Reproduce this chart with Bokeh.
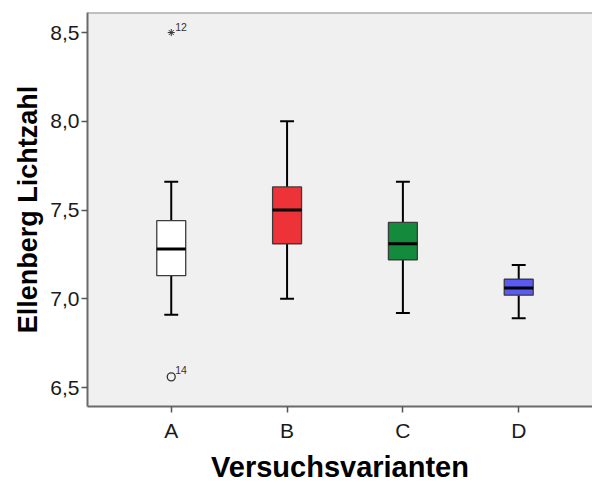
from bokeh.plotting import figure
from bokeh.models import ColumnDataSource, FixedTicker, Range1d, Span, Title
from bokeh.core.properties import value
from bokeh.embed import file_html
from bokeh.resources import INLINE

# ---- data ----
categories = ["A", "B", "C", "D"]
whisker_low = [6.91, 7.00, 6.92, 6.89]
q1 = [7.13, 7.31, 7.22, 7.02]
median = [7.28, 7.50, 7.31, 7.06]
q3 = [7.44, 7.63, 7.43, 7.11]
whisker_high = [7.66, 8.00, 7.66, 7.19]
box_colors = ["#ffffff", "#ee3338", "#138a3c", "#5a5af5"]

extreme_cat = ["A"]
extreme_val = [8.5]
extreme_label = ["12"]

outlier_cat = ["A"]
outlier_val = [6.56]
outlier_label = ["14"]

y_ticks = [6.5, 7.0, 7.5, 8.0, 8.5]
y_tick_labels = ["6,5", "7,0", "7,5", "8,0", "8,5"]

x_title = "Versuchsvarianten"
y_title = "Ellenberg Lichtzahl"

# ---- derived ----
BOX_W = 0.25
CAP_W = 0.12
pos = [i + 1 for i in range(len(categories))]
cat_pos = dict(zip(categories, pos))

src = ColumnDataSource(dict(
    pos=pos, lo=whisker_low, q1=q1, med=median, q3=q3, hi=whisker_high,
    color=box_colors,
    bx0=[p_ - BOX_W / 2 for p_ in pos], bx1=[p_ + BOX_W / 2 for p_ in pos],
    cx0=[p_ - CAP_W / 2 for p_ in pos], cx1=[p_ + CAP_W / 2 for p_ in pos],
))
ext_src = ColumnDataSource(dict(x=[cat_pos[c] for c in extreme_cat], y=extreme_val, t=extreme_label))
out_src = ColumnDataSource(dict(x=[cat_pos[c] for c in outlier_cat], y=outlier_val, t=outlier_label))

FONT = "Liberation Sans"

p = figure(width=592, height=484,
           x_range=Range1d(0.277, 4.637), y_range=Range1d(6.393, 8.613),
           output_backend="svg", toolbar_location=None,
           min_border_left=87, min_border_right=0, min_border_top=12, min_border_bottom=78)
p.background_fill_color = "#f0f0f0"
p.border_fill_color = "white"
p.outline_line_color = None
p.xgrid.visible = False
p.ygrid.visible = False

# top frame line
p.add_layout(Span(location=p.y_range.end, dimension="width", line_color="#8c8c8c", line_width=2))

for ax in (p.xaxis[0], p.yaxis[0]):
    ax.axis_line_color = "#6a6a6a"
    ax.axis_line_width = 2
    ax.major_tick_line_color = "#555555"
    ax.major_tick_line_width = 1.5
    ax.major_tick_out = 6
    ax.major_tick_in = 0
    ax.minor_tick_line_color = None
    ax.major_label_text_font = FONT
    ax.major_label_text_font_size = "21px"
    ax.major_label_text_color = "#1a1a1a"

p.xaxis.ticker = FixedTicker(ticks=pos)
p.xaxis.major_label_overrides = {p_: c for p_, c in zip(pos, categories)}
p.xaxis.major_label_standoff = 6

p.yaxis.ticker = FixedTicker(ticks=y_ticks)
p.yaxis.major_label_overrides = {t: l for t, l in zip(y_ticks, y_tick_labels)}
p.yaxis.major_label_standoff = 2

# small spacer between the x tick labels and the x title
p.add_layout(Title(text=" ", standoff=0, text_font=FONT, text_font_size="2px",
                   text_color="white"), "below")
# axis titles as side-panel titles
p.add_layout(Title(text=x_title, align="center", offset=5, standoff=0,
                   text_font=FONT, text_font_style="bold", text_font_size="29px",
                   text_color="black"), "below")
p.add_layout(Title(text=y_title, align="center", offset=17, standoff=10,
                   text_font=FONT, text_font_style="bold", text_font_size="27px",
                   text_color="black"), "left")

# whisker stems
p.segment(x0="pos", y0="q3", x1="pos", y1="hi", source=src, line_color="black", line_width=2)
p.segment(x0="pos", y0="lo", x1="pos", y1="q1", source=src, line_color="black", line_width=2)
# caps
p.segment(x0="cx0", y0="hi", x1="cx1", y1="hi", source=src, line_color="black", line_width=2)
p.segment(x0="cx0", y0="lo", x1="cx1", y1="lo", source=src, line_color="black", line_width=2)
# boxes
p.vbar(x="pos", width=BOX_W, bottom="q1", top="q3", source=src,
       fill_color="color", line_color="#3c3c3c", line_width=1.3)
# medians
p.segment(x0="bx0", y0="med", x1="bx1", y1="med", source=src, line_color="black", line_width=3)

# extremes and outliers
p.scatter(x="x", y="y", source=ext_src, marker="asterisk", size=7, line_color="#333333", line_width=1)
p.scatter(x="x", y="y", source=out_src, marker="circle", size=8, fill_color=None,
          line_color="#333333", line_width=1.3)
for s, dy in ((ext_src, -6), (out_src, -7)):
    p.text(x="x", y="y", text="t", source=s, x_offset=4, y_offset=dy,
           text_font=value(FONT), text_font_size="10.5px", text_color="#333333",
           text_baseline="alphabetic")

open("out.html", "w").write(file_html(p, INLINE))
